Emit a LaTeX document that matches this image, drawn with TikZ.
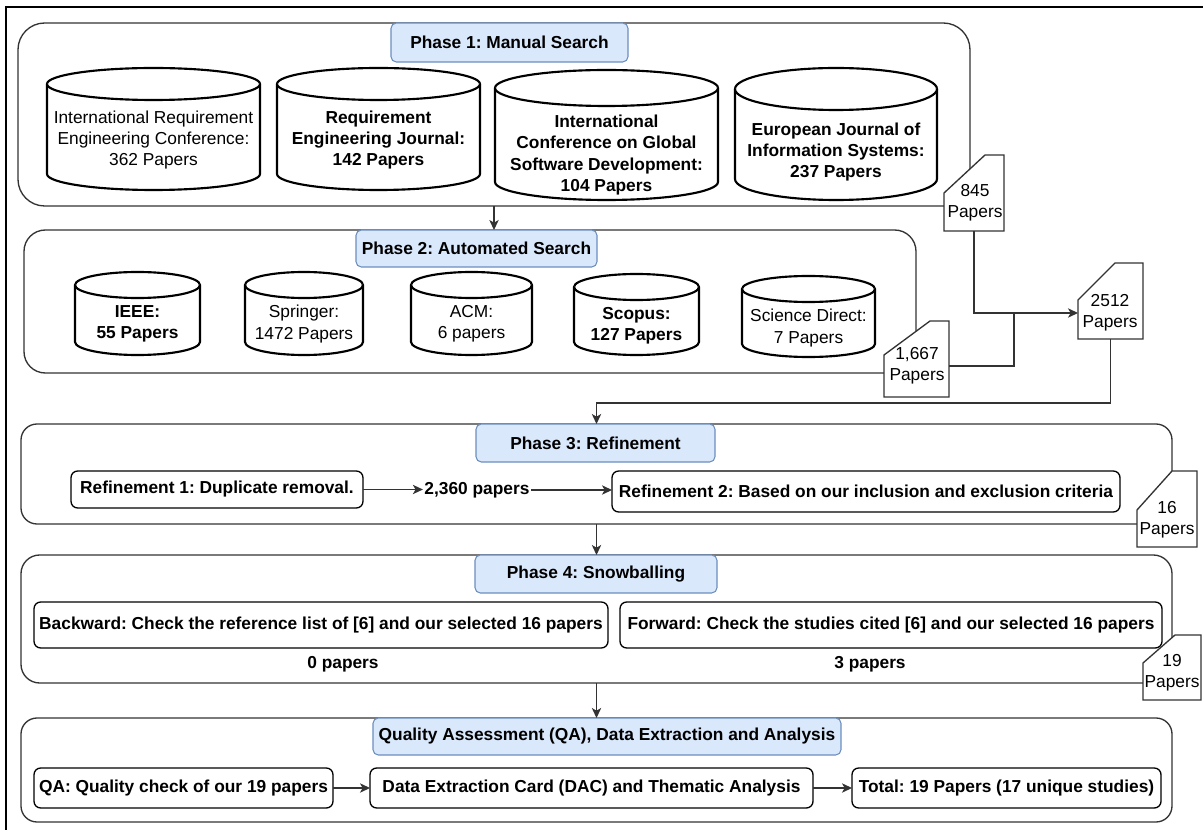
\documentclass[tikz,border=0pt]{standalone}
\usepackage{fontspec}
\setmainfont{Liberation Sans}
\usetikzlibrary{arrows.meta,fit}
\definecolor{tfill}{HTML}{DAE8FC}
\definecolor{tdraw}{HTML}{6C8EBF}
\definecolor{cline}{HTML}{333333}
\frenchspacing
\newcommand\dbcyl[5]{%
  \pgfmathsetmacro\cxm{(#1+#2)/2}%
  \pgfmathsetmacro\crx{(#2-#1)/2*0.5523}%
  \pgfmathsetmacro\ctc{#3+#5}%
  \pgfmathsetmacro\cbc{#4-#5}%
  \pgfmathsetmacro\cky{#5*0.5523}%
  \draw[cyl] (#1,\ctc) -- (#1,\cbc) .. controls (#1,\cbc+\cky) and (\cxm-\crx,#4) .. (\cxm,#4) .. controls (\cxm+\crx,#4) and (#2,\cbc+\cky) .. (#2,\cbc) -- (#2,\ctc) .. controls (#2,\ctc-\cky) and (\cxm+\crx,#3) .. (\cxm,#3) .. controls (\cxm-\crx,#3) and (#1,\ctc-\cky) .. (#1,\ctc) -- cycle;
  \draw[cyl] (#1,\ctc) .. controls (#1,\ctc+\cky) and (\cxm-\crx,\ctc+#5) .. (\cxm,\ctc+#5) .. controls (\cxm+\crx,\ctc+#5) and (#2,\ctc+\cky) .. (#2,\ctc);
}
\begin{document}
\begin{tikzpicture}[x=0.75pt,y=-0.75pt,
  txt/.style={font=\fontsize{13}{16}\selectfont, align=center, inner sep=0pt, text=black},
  btxt/.style={txt, font=\fontsize{13}{16}\selectfont\bfseries},
  cont/.style={draw=cline, line width=1pt, rounded corners=#1, inner sep=0pt, outer sep=0pt},
  ttl/.style={draw=tdraw, fill=tfill, line width=0.8pt, rounded corners=4pt, inner sep=0pt, outer sep=0pt},
  ibox/.style={draw=black, line width=1pt, fill=white, rounded corners=5pt, inner sep=0pt, outer sep=0pt},
  cyl/.style={draw=black, line width=1.6pt, fill=white},
  cardp/.style={draw=cline, line width=1pt, fill=white},
  cardn/.style={inner sep=0pt, outer sep=0pt},
  link/.style={draw=cline, line width=0.9pt},
  arr/.style={link, -{Stealth[length=7.5pt,width=7pt,inset=2pt]}},
]
\useasboundingbox (0,0) rectangle (1203,830);
\fill[white] (0,0) rectangle (1203,830);
% outer frame
\draw[line width=1.5pt] (1203,7) -- (6,7) -- (6,830);

% containers
\node[cont=20pt, fit={(18,23) (970,206)}] (p1) {};
\node[cont=16pt, fit={(24,230) (916,373)}] (p2) {};
\node[cont=12pt, fit={(21,424) (1172,524)}] (p3) {};
\node[cont=14pt, fit={(21,555) (1172,683)}] (p4) {};
\node[cont=12pt, fit={(21,718) (1172,822)}] (p5) {};

% titles
\node[ttl, fit={(391,23) (628,62)}] (t1) {};
\node[btxt] (t1t) at (t1.center) {Phase 1: Manual Search};
\node[ttl, fit={(356,230) (597,267)}] (t2) {};
\node[btxt] (t2t) at (t2.center) {Phase 2: Automated Search};
\node[ttl, fit={(476,424) (715,462)}] (t3) {};
\node[btxt] (t3t) at (t3.center) {Phase 3: Refinement};
\node[ttl, fit={(475,555) (717,593)}] (t4) {};
\node[btxt] (t4t) at (t4.center) {Phase 4: Snowballing};
\node[ttl, fit={(373,718) (841,755)}] (t5) {};
\node[btxt] (t5t) at (t5.center) {Quality Assessment (QA), Data Extraction and Analysis};

% phase 1 databases
\dbcyl{47}{260}{68}{190}{16}
\node[txt] (d1) at (153.5,140) {International Requirement\\Engineering Conference:\\362 Papers};
\dbcyl{277}{480}{68}{190}{16}
\node[btxt] (d2) at (378.5,140) {Requirement\\Engineering Journal:\\142 Papers};
\dbcyl{495}{718}{70}{200}{18}
\node[btxt] (d3) at (606.5,155) {International\\Conference on Global\\Software Development:\\104 Papers};
\dbcyl{735}{937}{68}{200}{21}
\node[btxt] (d4) at (836,152) {European Journal of\\Information Systems:\\237 Papers};

% phase 2 databases
\dbcyl{75}{200}{272}{355}{13}
\node[btxt] (e1) at (137.5,324) {IEEE:\\55 Papers};
\dbcyl{245}{363}{272}{355}{13}
\node[txt] (e2) at (304,324) {Springer:\\1472 Papers};
\dbcyl{411}{532}{272}{355}{13}
\node[txt] (e3) at (471.5,324) {ACM:\\6 papers};
\dbcyl{574}{699}{274}{355}{13}
\node[btxt] (e4) at (636.5,326) {Scopus:\\127 Papers};
\dbcyl{742}{875}{276}{357}{13}
\node[txt] (e5) at (808.5,328) {Science Direct:\\7 Papers};

% phase 3
\node[ibox, fit={(71,471) (363,508)}] (r1) {};
\node[btxt] (r1t) at (r1.center) {Refinement 1: Duplicate removal.};
\node[btxt, inner sep=1pt] (n2360) at (477,490) {2,360 papers};
\node[ibox, fit={(612,471) (1120,512)}] (r2) {};
\node[btxt] (r2t) at (r2.center) {Refinement 2: Based on our inclusion and exclusion criteria};

% phase 4
\node[ibox, fit={(34,602) (608,648)}] (bw) {};
\node[btxt] (bwt) at (bw.center) {Backward: Check the reference list of [6] and our selected 16 papers};
\node[ibox, fit={(620,602) (1162,648)}] (fw) {};
\node[btxt] (fwt) at (fw.center) {Forward: Check the studies cited [6] and our selected 16 papers};
\node[btxt] (z0) at (343,664) {0 papers};
\node[btxt] (z3) at (870,664) {3 papers};

% QA
\node[ibox, fit={(34,768) (333,808)}] (qa) {};
\node[btxt] (qat) at (qa.center) {QA: Quality check of our 19 papers};
\node[ibox, fit={(370,768) (813,808)}] (dac) {};
\node[btxt] (dact) at (dac.center) {Data Extraction Card (DAC) and Thematic Analysis};
\node[ibox, fit={(852,768) (1161,808)}] (tot) {};
\node[btxt] (tott) at (tot.center) {Total: 19 Papers (17 unique studies)};

% cards
\path[cardp] (944,193) -- (985,155) -- (1004,155) -- (1004,231) -- (944,231) -- cycle;
\node[cardn, fit={(944,155) (1004,231)}] (c845) {};
\node[txt] (c845t) at (975,203) {845\\Papers};

\path[cardp] (884,355) -- (930,321) -- (949,321) -- (949,397) -- (884,397) -- cycle;
\node[cardn, fit={(884,321) (949,397)}] (c1667) {};
\node[txt] (c1667t) at (917,366) {1,667\\Papers};

\path[cardp] (1078,300) -- (1115,263) -- (1143,263) -- (1143,339) -- (1078,339) -- cycle;
\node[cardn, fit={(1078,263) (1143,339)}] (c2512) {};
\node[txt] (c2512t) at (1110,313) {2512\\Papers};

\path[cardp] (1137,510) -- (1172,471) -- (1197,471) -- (1197,547) -- (1137,547) -- cycle;
\node[cardn, fit={(1137,471) (1197,547)}] (c16) {};
\node[txt] (c16t) at (1167,520) {16\\Papers};

\path[cardp] (1143,663) -- (1175,635) -- (1201,635) -- (1201,700) -- (1143,700) -- cycle;
\node[cardn, fit={(1143,635) (1201,700)}] (c19) {};
\node[txt] (c19t) at (1172,673) {19\\Papers};

% connectors
\coordinate (j1) at (1014,313);
\coordinate (h366) at (0,366);
\coordinate (j2) at (0,403);
\draw[arr] (p1.south) -- (p1.south |- p2.north);
\draw[arr] (c845.south) |- (c2512.west |- j1);
\draw[link] (c1667.east |- h366) -| (j1);
\draw[arr] (c2512.south) |- (p3.north |- j2) -- (p3.north);
\draw[arr] (r1.east) -- (r1.east -| n2360.west);
\draw[arr] (n2360.east) -- (n2360.east -| r2.west);
\draw[arr] (p3.south) -- (p4.north);
\draw[arr] (p4.south) -- (p5.north);
\draw[arr] (qa.east) -- (dac.west);
\draw[arr] (dac.east) -- (tot.west);
\end{tikzpicture}
\end{document}
